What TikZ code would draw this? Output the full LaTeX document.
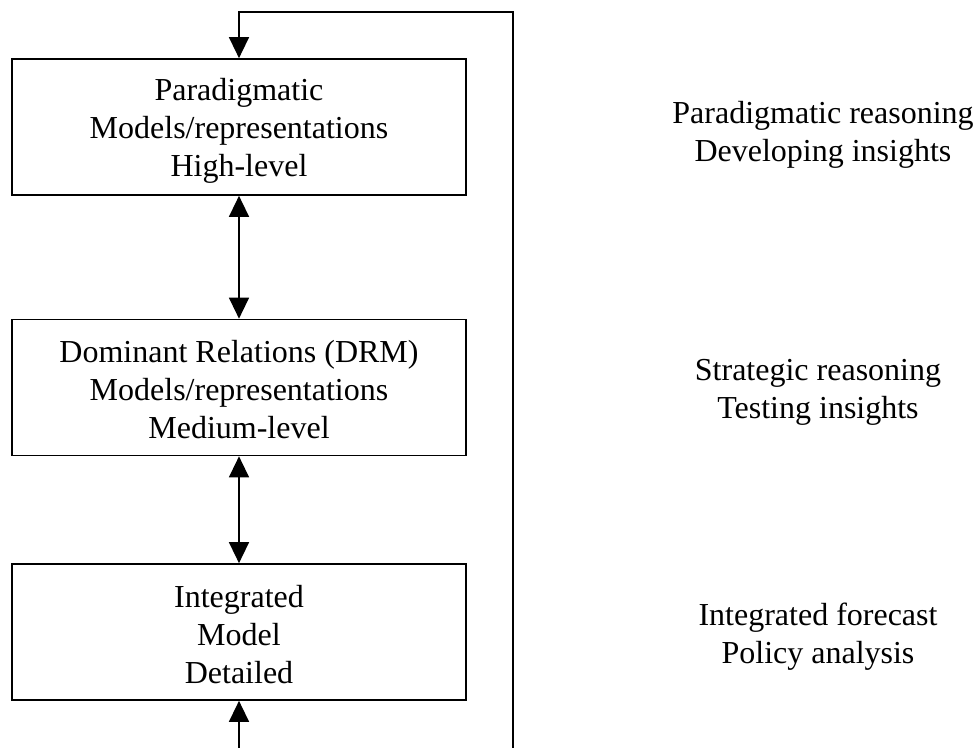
\documentclass[tikz,border=0pt]{standalone}
\usepackage{fontspec}
\setmainfont{Liberation Serif}
\usetikzlibrary{arrows.meta}
\begin{document}
\begin{tikzpicture}[x=1pt,y=-1pt,
  every node/.style={font=\fontsize{32}{38}\selectfont, align=center},
  levelbox/.style={draw, line width=1.7pt, minimum width=454pt, minimum height=136pt, inner sep=0pt},
  note/.style={inner sep=0pt},
  link/.style={line width=1.4pt},
  tip/.style={-{Triangle[length=21pt,width=20pt]}},
  bothtip/.style={{Triangle[length=21pt,width=20pt]}-{Triangle[length=21pt,width=20pt]}}]
  \useasboundingbox (0,0) rectangle (976,747);

  % the three model levels (the rule lowers the text block slightly)
  \node[levelbox] (high) at (239,127) {\rule{0pt}{29pt}Paradigmatic\\Models/representations\\High-level};
  \node[levelbox] (mid)  at (239,387.5) {\rule{0pt}{26.5pt}Dominant Relations (DRM)\\Models/representations\\Medium-level};
  \node[levelbox] (low)  at (239,632) {\rule{0pt}{26.5pt}Integrated\\Model\\Detailed};

  % what each level is used for
  \node[note] (r1) at (823,135) {Paradigmatic reasoning\\Developing insights};
  \node[note] (r2) at (818,392) {Strategic reasoning\\Testing insights};
  \node[note] (r3) at (818,637) {Integrated forecast\\Policy analysis};

  % links between levels
  \draw[link,bothtip] (high.south) -- (mid.north);
  \draw[link,bothtip] (mid.south) -- (low.north);

  % feedback loop from below back to the top level
  \coordinate (inlet) at (239,750);
  \coordinate (loopbase) at (513,750);
  \coordinate (loopcorner) at (513,12);
  \coordinate (looptop) at (239,12);
  \draw[link,tip] (inlet) -- (low.south);
  \draw[link,tip] (loopbase) -- (loopcorner) -- (looptop) -- (high.north);
\end{tikzpicture}
\end{document}
